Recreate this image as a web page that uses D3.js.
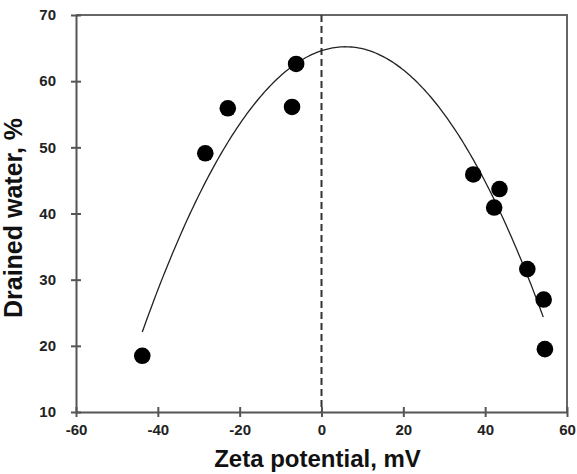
<!DOCTYPE html>
<html>
<head>
<meta charset="utf-8">
<script src="https://cdn.jsdelivr.net/npm/d3@7/dist/d3.min.js"></script>
<style>
  body { margin: 0; background: #fff; }
  svg text { font-family: "Liberation Sans", Arial, sans-serif; font-weight: bold; }
</style>
</head>
<body>
<div id="chart"></div>
<script>
// measured points: zeta potential (mV) and drained water (%)
var zeta    = [-43.8, -28.4, -22.9, -7.2, -6.2, 37.1, 43.5, 42.2, 50.3, 54.3, 54.6];
var drained = [ 18.5,  49.1,  55.9, 56.1, 62.6, 45.9, 43.7, 40.9, 31.6, 27.0, 19.5];

var trendCoef = [64.6, 0.2046, -0.01748];
var trendRange = [-43.8, 54.6];

var xTicks = [-60, -40, -20, 0, 20, 40, 60];
var yTicks = [10, 20, 30, 40, 50, 60, 70];

function main() {
    var W = 577, H = 474;
    var margin = {top: 15, right: 10, bottom: 62, left: 76};
    var width = W - margin.left - margin.right,
        height = H - margin.top - margin.bottom;

    var xScale = d3.scaleLinear().domain([-60, 60]).range([0, width]);
    var yScale = d3.scaleLinear().domain([10, 70]).range([height, 0]);

    var svg = d3.select("#chart").append("svg")
        .attr("width", W)
        .attr("height", H);

    var g = svg.append("g")
        .attr("transform", "translate(" + margin.left + "," + margin.top + ")");

    // top and right frame
    g.append("path")
        .attr("d", "M0,0H" + width + "V" + height)
        .attr("fill", "none")
        .attr("stroke", "#666")
        .attr("stroke-width", 2);

    // dashed line at zero
    g.append("line")
        .attr("x1", xScale(0)).attr("x2", xScale(0))
        .attr("y1", 0).attr("y2", height)
        .attr("stroke", "#333")
        .attr("stroke-width", 2)
        .attr("stroke-dasharray", "7,4");

    // trend curve
    var trendData = d3.range(trendRange[0], trendRange[1] + 0.01, 0.5).map(function(x) {
        return {x: x, y: trendCoef[0] + trendCoef[1] * x + trendCoef[2] * x * x};
    });
    var line = d3.line()
        .x(function(d) { return xScale(d.x); })
        .y(function(d) { return yScale(d.y); });
    g.append("path")
        .datum(trendData)
        .attr("d", line)
        .attr("fill", "none")
        .attr("stroke", "#222")
        .attr("stroke-width", 1.3);

    // points
    g.selectAll("circle.pt")
        .data(zeta)
        .enter().append("circle")
        .attr("class", "pt")
        .attr("cx", function(d) { return xScale(d); })
        .attr("cy", function(d, i) { return yScale(drained[i]); })
        .attr("r", 8.3)
        .attr("fill", "#000");

    // plain hyphen for negatives, like the original
    var fmt = function(d) { return String(d); };

    // axes
    var xAxis = g.append("g")
        .attr("transform", "translate(0," + height + ")")
        .call(d3.axisBottom(xScale).tickValues(xTicks).tickSize(0).tickPadding(12).tickFormat(fmt));
    xAxis.selectAll("line").remove();
    xAxis.selectAll(".tick").append("line")
        .attr("y1", -5).attr("y2", 5)
        .attr("stroke", "#555").attr("stroke-width", 2);

    var yAxis = g.append("g")
        .call(d3.axisLeft(yScale).tickValues(yTicks).tickSize(0).tickPadding(20).tickFormat(fmt));
    yAxis.selectAll("line").remove();
    yAxis.selectAll(".tick").append("line")
        .attr("x1", -5).attr("x2", 5)
        .attr("stroke", "#555").attr("stroke-width", 2);

    [xAxis, yAxis].forEach(function(a) {
        a.select(".domain").attr("stroke", "#555").attr("stroke-width", 2);
        a.selectAll("text")
            .attr("fill", "#222")
            .style("font-size", "15px")
            .style("font-weight", "bold");
    });

    // axis titles
    svg.append("text")
        .attr("text-anchor", "middle")
        .attr("x", margin.left + width / 2 - 4)
        .attr("y", 467)
        .attr("fill", "#111")
        .style("font-size", "24px")
        .text("Zeta potential, mV");

    svg.append("text")
        .attr("text-anchor", "middle")
        .attr("transform", "translate(22,218) rotate(-90)")
        .attr("fill", "#111")
        .style("font-size", "25px")
        .text("Drained water, %");
}
main();
</script>
</body>
</html>
